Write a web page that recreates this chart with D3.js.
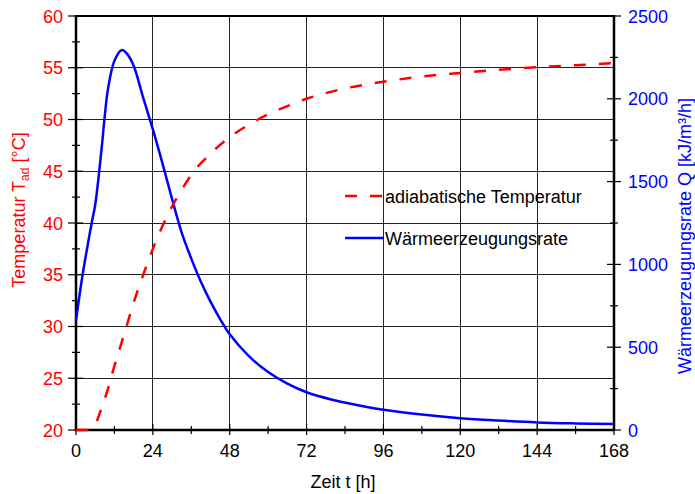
<!DOCTYPE html>
<html>
<head>
<meta charset="utf-8">
<script src="https://cdn.jsdelivr.net/npm/d3@7"></script>
<style>
  body { margin: 0; background: #fff; }
  svg { font-family: "Liberation Sans", Arial, sans-serif; }
</style>
</head>
<body>
<svg width="695" height="494"></svg>
<script>
// adiabatic temperature
var tempHours = [0, 3, 5, 6, 7.5, 10, 12, 15, 18, 21, 24, 27, 30, 33, 36.6, 42, 48, 54, 60, 66, 72, 78, 84, 90, 96, 108, 120, 132, 144, 156, 168];
var tempValues = [20, 20, 20.2, 20.5, 21.7, 24.0, 26.2, 29.2, 32.3, 35.0, 37.5, 39.7, 41.6, 43.2, 44.9, 46.7, 48.3, 49.5, 50.5, 51.3, 52.0, 52.55, 53.0, 53.35, 53.65, 54.15, 54.5, 54.8, 55.05, 55.25, 55.45];

// heat generation rate
var heatHours = [0, 2, 5, 6, 8, 9, 10, 12, 14.3, 16, 18, 21, 24, 27, 30, 33, 36, 39, 42, 45, 48, 54, 60, 66, 72, 80, 88, 96, 108, 120, 132, 144, 156, 168];
var heatValues = [660, 930, 1260, 1360, 1700, 1900, 2060, 2230, 2295, 2270, 2200, 2005, 1815, 1610, 1395, 1192, 1035, 895, 775, 670, 578, 446, 350, 280, 228, 183, 150, 122, 93, 71, 57, 46, 40, 36];

var xTicks = [0, 24, 48, 72, 96, 120, 144, 168];
var tempTicks = [20, 25, 30, 35, 40, 45, 50, 55, 60];
var heatTicks = [0, 500, 1000, 1500, 2000, 2500];

var svg = d3.select("svg");
var plotL = 76, plotR = 614, plotT = 16, plotB = 430;

var x = d3.scaleLinear().domain([0, 168]).range([plotL, plotR]);
var yT = d3.scaleLinear().domain([20, 60]).range([plotB, plotT]);
var yQ = d3.scaleLinear().domain([0, 2500]).range([plotB, plotT]);

// grid
var grid = svg.append("g").attr("stroke", "#222").attr("stroke-width", 1).attr("shape-rendering", "crispEdges");
grid.selectAll(".gx").data(xTicks.slice(1, -1)).enter().append("line")
    .attr("x1", d => x(d)).attr("x2", d => x(d)).attr("y1", plotT).attr("y2", plotB);
grid.selectAll(".gy").data(tempTicks.slice(1, -1)).enter().append("line")
    .attr("x1", plotL).attr("x2", plotR).attr("y1", d => yT(d)).attr("y2", d => yT(d));

// axes (crossing ticks drawn by hand)
var ax = svg.append("g").attr("stroke", "#000");
ax.append("line").attr("x1", plotL).attr("x2", plotR).attr("y1", plotT).attr("y2", plotT).attr("stroke-width", 2);
ax.append("line").attr("x1", plotL).attr("x2", plotL).attr("y1", plotT - 1).attr("y2", plotB + 1).attr("stroke-width", 2.5);
ax.append("line").attr("x1", plotR).attr("x2", plotR).attr("y1", plotT - 1).attr("y2", plotB + 1).attr("stroke-width", 2.5);
ax.append("line").attr("x1", plotL - 1).attr("x2", plotR + 1).attr("y1", plotB).attr("y2", plotB).attr("stroke-width", 2.5);

var tempMinor = d3.range(22.5, 60, 5);
var heatMinor = d3.range(250, 2500, 500);
var xMinor = d3.range(12, 168, 24);

ax.selectAll(".lt").data(tempTicks).enter().append("line")
    .attr("x1", plotL - 8).attr("x2", plotL + 7).attr("y1", d => yT(d)).attr("y2", d => yT(d)).attr("stroke-width", 1.2);
ax.selectAll(".ltm").data(tempMinor).enter().append("line")
    .attr("x1", plotL - 4).attr("x2", plotL + 4).attr("y1", d => yT(d)).attr("y2", d => yT(d)).attr("stroke-width", 1.2);
ax.selectAll(".rt").data(heatTicks).enter().append("line")
    .attr("x1", plotR - 7).attr("x2", plotR + 7).attr("y1", d => yQ(d)).attr("y2", d => yQ(d)).attr("stroke-width", 1.2);
ax.selectAll(".rtm").data(heatMinor).enter().append("line")
    .attr("x1", plotR - 4).attr("x2", plotR + 4).attr("y1", d => yQ(d)).attr("y2", d => yQ(d)).attr("stroke-width", 1.2);
ax.selectAll(".bt").data(xTicks).enter().append("line")
    .attr("x1", d => x(d)).attr("x2", d => x(d)).attr("y1", plotB - 6).attr("y2", plotB + 5).attr("stroke-width", 1.2);
ax.selectAll(".btm").data(xMinor).enter().append("line")
    .attr("x1", d => x(d)).attr("x2", d => x(d)).attr("y1", plotB - 4).attr("y2", plotB + 4).attr("stroke-width", 1.2);

// curves, on top of the axes
var tempData = tempHours.map((t, i) => [t, tempValues[i]]);
var heatData = heatHours.map((t, i) => [t, heatValues[i]]);

svg.append("path")
    .datum(heatData)
    .attr("fill", "none").attr("stroke", "#0000ff").attr("stroke-width", 2.5)
    .attr("d", d3.line().x(d => x(d[0])).y(d => yQ(d[1])).curve(d3.curveCatmullRom.alpha(0.5)));

svg.append("path")
    .datum(tempData)
    .attr("fill", "none").attr("stroke", "#ff0000").attr("stroke-width", 2.5)
    .attr("stroke-dasharray", "12,13")
    .attr("d", d3.line().x(d => x(d[0])).y(d => yT(d[1])).curve(d3.curveMonotoneX));

// tick labels
var fs = 18;
svg.selectAll(".lbl").data(tempTicks).enter().append("text")
    .attr("x", 63).attr("y", d => yT(d) + 6.5).attr("text-anchor", "end")
    .attr("fill", "#ff0000").attr("font-size", fs).text(d => d);
svg.selectAll(".rbl").data(heatTicks).enter().append("text")
    .attr("x", 628).attr("y", d => yQ(d) + 6.5).attr("text-anchor", "start")
    .attr("fill", "#0000ff").attr("font-size", fs).text(d => d);
svg.selectAll(".bbl").data(xTicks).enter().append("text")
    .attr("x", d => x(d)).attr("y", 457).attr("text-anchor", "middle")
    .attr("fill", "#000").attr("font-size", fs).text(d => d);

// axis titles
svg.append("text").attr("x", 343).attr("y", 488).attr("text-anchor", "middle")
    .attr("font-size", fs).attr("fill", "#000").text("Zeit t [h]");

var lt = svg.append("text").attr("transform", "translate(25,210) rotate(-90)")
    .attr("text-anchor", "middle").attr("font-size", fs).attr("fill", "#ff0000");
lt.append("tspan").text("Temperatur T");
lt.append("tspan").attr("font-size", 12).attr("dy", 4).text("ad");
lt.append("tspan").attr("dy", -4).text(" [°C]");

svg.append("text").attr("transform", "translate(691,236) rotate(-90)")
    .attr("text-anchor", "middle").attr("font-size", fs).attr("fill", "#0000ff")
    .text("Wärmeerzeugungsrate Q [kJ/m³/h]");

// legend
var lg = svg.append("g");
lg.append("line").attr("x1", 345).attr("x2", 383).attr("y1", 196).attr("y2", 196)
    .attr("stroke", "#ff0000").attr("stroke-width", 2.5).attr("stroke-dasharray", "12,13");
lg.append("text").attr("x", 385).attr("y", 203).attr("font-size", fs).attr("fill", "#000").text("adiabatische Temperatur");
lg.append("line").attr("x1", 345).attr("x2", 383).attr("y1", 238).attr("y2", 238)
    .attr("stroke", "#0000ff").attr("stroke-width", 2.5);
lg.append("text").attr("x", 385).attr("y", 245).attr("font-size", fs).attr("fill", "#000").text("Wärmeerzeugungsrate");
</script>
</body>
</html>
